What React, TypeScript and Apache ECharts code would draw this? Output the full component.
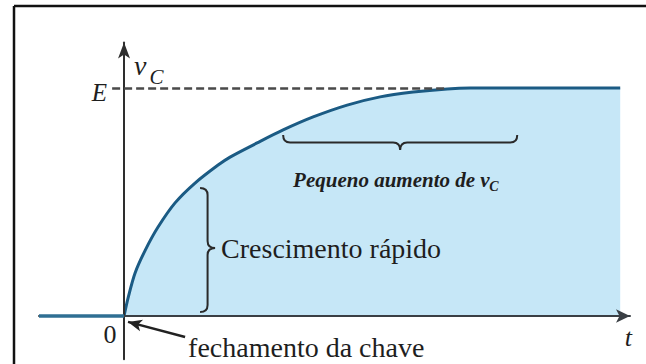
import React, { useEffect, useRef } from "react";
import * as echarts from "echarts";

// Capacitor charging curve v_C(t), in units where E = 1
const timeValues = [0, 0.05, 0.13, 0.25, 0.4, 0.6, 0.835, 1.106, 1.247, 1.565, 1.871, 2.224, 2.624, 3.012, 3.4, 3.8, 4.07, 4.66, 5.835];
const vcValues = [0, 0.083, 0.189, 0.289, 0.39, 0.496, 0.583, 0.662, 0.697, 0.759, 0.816, 0.873, 0.925, 0.961, 0.982, 0.996, 1, 1, 1];
// before the switch closes (t < 0)
const preTime = [-1, 0];
const preValues = [0, 0];

const levelE = 1;
const dashFrom = -0.14;
const dashTo = 3.8;

const braces = [
  { start: [0.894, 0.561], end: [0.894, 0.018], tip: [1.071, 0.298] },
  { start: [1.871, 0.794], end: [4.624, 0.794], tip: [3.247, 0.728] },
];
const pointerFrom = [0.718, -0.092];
const pointerTo = [0.047, -0.026];

const SERIF = "'Liberation Serif', 'DejaVu Serif', serif";
const INK = "#1e1e1e";

const annotations = [
  { text: "E", at: [-0.2, 0.98], size: 25, italic: true, bold: false, align: "right" },
  { text: "v", at: [0.118, 1.1], size: 28, italic: true, bold: false, align: "left" },
  { text: "C", at: [0.3, 1.05], size: 21, italic: true, bold: false, align: "left" },
  { text: "Crescimento rápido", at: [1.141, 0.298], size: 28, italic: false, bold: false, align: "left" },
  { text: "fechamento da chave", at: [0.753, -0.14], size: 28, italic: false, bold: false, align: "left" },
  { text: "0", at: [-0.165, -0.083], size: 26, italic: false, bold: false, align: "center" },
  { text: "t", at: [5.93, -0.096], size: 26, italic: true, bold: false, align: "center" },
  { text: "Pequeno aumento de v", at: [1.988, 0.596], size: 21, italic: true, bold: true, align: "left" },
  { text: "C", at: [4.294, 0.57], size: 14, italic: true, bold: true, align: "left" },
];

function bracePath(A: number[], B: number[], T: number[]) {
  const dx = B[0] - A[0];
  const dy = B[1] - A[1];
  const len = Math.hypot(dx, dy);
  const u = [dx / len, dy / len];
  const ta = [T[0] - A[0], T[1] - A[1]];
  const proj = ta[0] * u[0] + ta[1] * u[1];
  const M = [A[0] + proj * u[0], A[1] + proj * u[1]];
  const nv = [T[0] - M[0], T[1] - M[1]];
  const d = Math.hypot(nv[0], nv[1]) || 1;
  const n = [nv[0] / d, nv[1] / d];
  const h = d * 0.5;
  const r = Math.min(h * 1.2, 7);
  const p = (P: number[], a: number, b: number) => [P[0] + n[0] * a + u[0] * b, P[1] + n[1] * a + u[1] * b];
  const f = (q: number[]) => q[0].toFixed(2) + " " + q[1].toFixed(2);
  const a1 = p(A, h, 0), a2 = p(A, h, r);
  const m1 = p(M, h, -r), mc = p(M, h, 0), m2 = p(M, h, r);
  const b1 = p(B, h, -r), bc = p(B, h, 0);
  return (
    "M" + f(A) + " Q" + f(a1) + " " + f(a2) +
    " L" + f(m1) + " Q" + f(mc) + " " + f(T) +
    " Q" + f(mc) + " " + f(m2) +
    " L" + f(b1) + " Q" + f(bc) + " " + f(B)
  );
}

export default function App() {
  const ref = useRef<HTMLDivElement>(null);

  useEffect(() => {
    document.body.style.margin = "0";
    document.body.style.overflow = "hidden";
    if (!ref.current) return;
    const chart = echarts.init(ref.current, null, { renderer: "svg" });

    const axisCommon = {
      type: "value" as const,
      z: 3,
      splitLine: { show: false },
      axisTick: { show: false },
      axisLabel: { show: false },
    };

    chart.setOption({
      animation: false,
      backgroundColor: "#ffffff",
      grid: { left: 39, top: 42.4, width: 591, height: 316.9, containLabel: false },
      xAxis: {
        ...axisCommon,
        min: -1,
        max: 5.95,
        axisLine: {
          onZero: true,
          symbol: ["none", "arrow"],
          symbolSize: [10, 14],
          lineStyle: { color: "#3a3f44", width: 2 },
        },
      },
      yAxis: {
        ...axisCommon,
        min: -0.19,
        max: 1.2,
        axisLine: {
          onZero: true,
          symbol: ["none", "arrow"],
          symbolSize: [9, 16],
          lineStyle: { color: "#2e2e2e", width: 2 },
        },
      },
      series: [
        {
          type: "line",
          name: "vC",
          z: 2,
          data: timeValues.map((t, i) => [t, vcValues[i]]),
          smooth: 0.3,
          showSymbol: false,
          symbol: "none",
          lineStyle: { color: "#1b5b84", width: 3 },
          areaStyle: { color: "#c6e7f7", opacity: 1 },
          markLine: {
            silent: true,
            animation: false,
            label: { show: false },
            data: [
              [
                { coord: [dashFrom, levelE], symbol: "none", lineStyle: { color: "#4a4a4a", width: 2.5, type: [8, 4] } },
                { coord: [dashTo, levelE], symbol: "none" },
              ],
              [
                { coord: pointerFrom, symbol: "none", lineStyle: { color: "#222222", width: 2.5, type: "solid" } },
                { coord: pointerTo, symbol: "arrow", symbolSize: [9, 14] },
              ],
            ],
          },
        },
        {
          type: "line",
          name: "pre",
          z: 4,
          data: preTime.map((t, i) => [t, preValues[i]]),
          showSymbol: false,
          symbol: "none",
          lineStyle: { color: "#2f6f93", width: 3.5 },
        },
        {
          type: "custom",
          name: "braces",
          z: 5,
          clip: false,
          data: braces.map((b) => b.tip),
          renderItem: (params: any, api: any) => {
            const b = braces[params.dataIndex];
            const A = api.coord(b.start);
            const B = api.coord(b.end);
            const T = api.coord(b.tip);
            return {
              type: "path",
              shape: { pathData: bracePath(A, B, T) },
              style: { stroke: "#2a2a2a", lineWidth: 2, fill: "none" },
            };
          },
        },
      ],
    });

    const texts = annotations.map((a) => {
      const px = chart.convertToPixel({ gridIndex: 0 }, a.at) as number[];
      return {
        type: "text",
        x: px[0],
        y: px[1],
        z: 20,
        style: {
          text: a.text,
          fontFamily: SERIF,
          fontSize: a.size,
          fontStyle: a.italic ? "italic" : "normal",
          fontWeight: a.bold ? "bold" : "normal",
          fill: INK,
          align: a.align,
          textAlign: a.align,
          verticalAlign: "middle",
          textVerticalAlign: "middle",
        },
      };
    });

    chart.setOption({
      graphic: [
        {
          type: "line",
          z: 30,
          silent: true,
          shape: { x1: 14, y1: 6, x2: 646, y2: 6 },
          style: { stroke: "#111111", lineWidth: 2.5 },
        },
        {
          type: "line",
          z: 30,
          silent: true,
          shape: { x1: 14, y1: 6, x2: 14, y2: 364 },
          style: { stroke: "#111111", lineWidth: 2.5 },
        },
        ...texts,
      ],
    });

    return () => chart.dispose();
  }, []);

  return (
    <div
      ref={ref}
      style={{ position: "fixed", left: 0, top: 0, width: 646, height: 364, background: "#fff" }}
    />
  );
}
